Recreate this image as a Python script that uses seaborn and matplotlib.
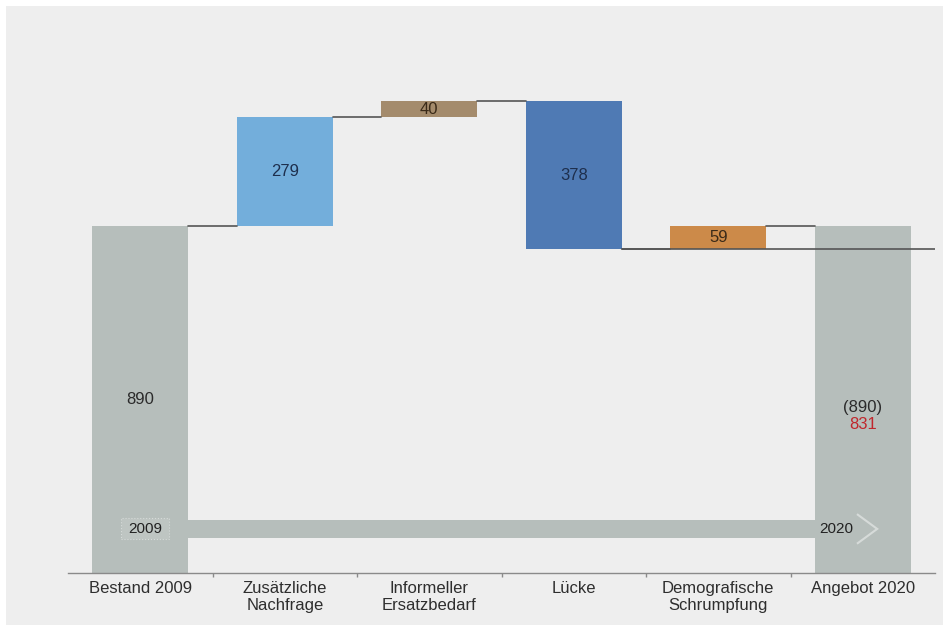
import matplotlib
matplotlib.use("Agg")
import matplotlib.pyplot as plt
import matplotlib.patches as mpatches
import seaborn as sns
import numpy as np

# Waterfall: housing stock 2009 -> supply 2020
categories = ["Bestand 2009", "Zusätzliche\nNachfrage", "Informeller\nErsatzbedarf",
              "Lücke", "Demografische\nSchrumpfung", "Angebot 2020"]
start_value = 890
changes = [279, 40, -378, 59]
end_value = 890
end_net = 831
value_labels = ["890", "279", "40", "378", "59", "(890)"]
years = ["2009", "2020"]

colors = ["#b6bebb", "#73aedb", "#a48b6c", "#4f7ab4", "#cc8a49", "#b6bebb"]
label_colors = ["#2b2b2b", "#1e2f4d", "#3a2a18", "#1e2f4d", "#3a2a18", "#2b2b2b"]

# cumulative levels and floating bar geometry
levels = [start_value]
for c in changes:
    levels.append(levels[-1] + c)
bottoms = [0] + [min(levels[i], levels[i + 1]) for i in range(len(changes))] + [0]
heights = [start_value] + [abs(c) for c in changes] + [end_value]

sns.set_theme(style="white")
plt.rcParams["font.family"] = ["Liberation Sans", "DejaVu Sans"]

fig = plt.figure(figsize=(9.43, 6.25), dpi=100)
fig.patch.set_facecolor("white")
panel = mpatches.Rectangle((6 / 943, 0), 1, 1 - 6 / 625, transform=fig.transFigure,
                           facecolor="#eeeeee", edgecolor="none", zorder=-10)
fig.add_artist(panel)

ax = fig.add_axes([68 / 943, 1 - 573 / 625, (935 - 68) / 943, (573 - 60) / 625])
ax.set_facecolor("none")
ax.set_zorder(1)

sns.barplot(x=list(range(len(categories))), y=heights, hue=list(range(len(categories))),
            palette=colors, legend=False, width=0.665, saturation=1, ax=ax,
            edgecolor="none", zorder=2)
for patch, b in zip(ax.patches, bottoms):
    patch.set_y(b)

ax.set_xlim(-0.5, 5.5)
ax.set_ylim(0, 1315)

# connector lines between bars
half = 0.665 / 2
line_kw = dict(color="#555555", lw=1.2, zorder=3)
for i in range(len(levels) - 1):
    ax.plot([i + half, i + 1 - half], [levels[i], levels[i]], **line_kw)
ax.plot([4 + half, 5 - half], [levels[-1], levels[-1]], **line_kw)
# net supply level across the final bar
ax.plot([3 + half, 5.5], [end_net, end_net], **line_kw)

# value labels
for i, (b, h, t) in enumerate(zip(bottoms, heights, value_labels)):
    y = b + h / 2
    if i == len(categories) - 1:
        y = 425
    ax.text(i, y, t, ha="center", va="center", fontsize=12, color=label_colors[i], zorder=5)
ax.text(5, 380, str(end_net), ha="center", va="center", fontsize=12, color="#c0262c", zorder=5)

# timeline arrow 2009 -> 2020
band_color = "#b6bebb"
ax.add_patch(mpatches.Rectangle((-0.14, 90), 4.95 + 0.14, 46, facecolor=band_color,
                                edgecolor="none", zorder=3))
ax.add_patch(mpatches.Polygon([[4.96, 75], [5.1, 113], [4.96, 151]], closed=False,
                              facecolor="none", edgecolor="white", lw=1.5, alpha=0.45, zorder=3))
ax.add_patch(mpatches.Rectangle((-0.13, 86), 0.33, 54, facecolor="#bec5c2",
                                edgecolor="#d6dbd9", lw=0.8, ls=":", zorder=4))
ax.text(0.035, 113, years[0], ha="center", va="center", fontsize=11, color="#222222", zorder=5)
ax.text(4.82, 113, years[1], ha="center", va="center", fontsize=11, color="#222222", zorder=5)

# axes styling
for s in ["top", "right", "left"]:
    ax.spines[s].set_visible(False)
ax.spines["bottom"].set_color("#8a8a8a")
ax.spines["bottom"].set_linewidth(1.0)
ax.set_yticks([])
ax.set_xticks(range(len(categories)))
ax.set_xticklabels(categories, fontsize=12, color="#2e2e2e", linespacing=1.1)
ax.set_xticks(np.arange(0.5, 5.5, 1), minor=True)
ax.tick_params(axis="x", which="both", bottom=True)
ax.tick_params(axis="x", which="major", length=0, pad=6)
ax.tick_params(axis="x", which="minor", length=3, width=1, color="#8a8a8a", direction="out")
ax.set_xlabel("")
ax.set_ylabel("")

fig.savefig("out.png", dpi=100, facecolor=fig.get_facecolor())
